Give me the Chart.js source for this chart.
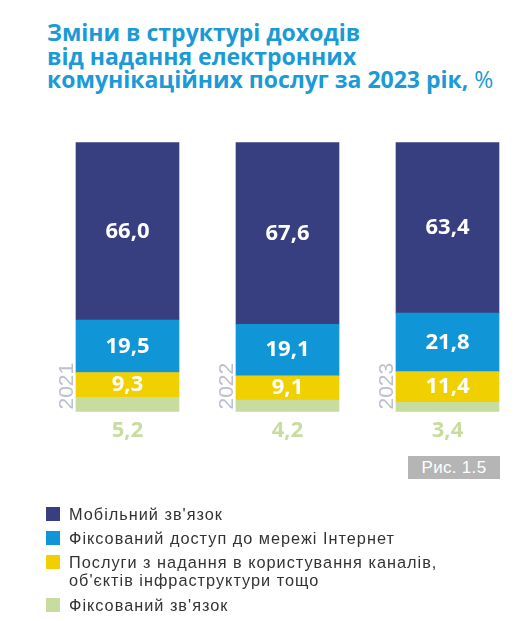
<!DOCTYPE html>
<html>
<head>
<meta charset="utf-8">
<script src="https://cdn.jsdelivr.net/npm/chart.js@4.4.1/dist/chart.umd.min.js"></script>
<style>
  html, body { margin: 0; padding: 0; background: #fff; }
  #wrap { position: relative; width: 522px; height: 621px; overflow: hidden; }
  #chart { position: absolute; left: 0; top: 0; }
  .title {
    position: absolute; left: 47px; top: 21px;
    font-family: "Open Sans", sans-serif; font-weight: 700; font-size: 23px;
    line-height: 23.5px; color: #1a9ad6; white-space: nowrap;
  }
  .title span { font-weight: 400; }
  .fig {
    position: absolute; left: 408px; top: 456px; width: 92px; height: 23px;
    background: #b5b5b5; color: #fff; font-family: "Liberation Sans", sans-serif;
    font-size: 17px; line-height: 23px; text-align: center; letter-spacing: 0.3px;
  }
  .leg { position: absolute; left: 46px; font-family: "Liberation Sans", sans-serif;
    font-size: 16.3px; line-height: 18px; color: #333; letter-spacing: 1px; }
  .leg i { position: absolute; left: 0; top: 2px; width: 14px; height: 14px; }
  .leg div { margin-left: 23px; white-space: nowrap; }
</style>
</head>
<body>
<div id="wrap">
  <div class="title">Зміни в структурі доходів<br>від надання електронних<br>комунікаційних послуг за 2023 рік, <span>%</span></div>
  <canvas id="chart" width="522" height="621"></canvas>
  <div class="fig">Рис. 1.5</div>
  <div id="legend"></div>
</div>
<script>
const years = ['2021', '2022', '2023'];
const mobile = [66.0, 67.6, 63.4];
const internet = [19.5, 19.1, 21.8];
const channels = [9.3, 9.1, 11.4];
const fixedLine = [5.2, 4.2, 3.4];

const labels = {
  mobile: 'Мобільний зв\'язок',
  internet: 'Фіксований доступ до мережі Інтернет',
  channels: 'Послуги з надання в користування каналів,\nоб\'єктів інфраструктури тощо',
  fixedLine: 'Фіксований зв\'язок'
};
const colors = {
  mobile: '#383f80',
  internet: '#1096d6',
  channels: '#f0d000',
  fixedLine: '#c8dca0'
};

const fmt = v => v.toFixed(1).replace('.', ',');

// stacked bottom first
const datasets = [
  { key: 'fixedLine', data: fixedLine },
  { key: 'channels', data: channels },
  { key: 'internet', data: internet },
  { key: 'mobile', data: mobile }
].map(d => ({
  key: d.key,
  label: labels[d.key],
  data: d.data,
  backgroundColor: colors[d.key],
  borderWidth: 0,
  barThickness: 103,
  clip: false
}));

const labelPlugin = {
  id: 'barLabels',
  afterDatasetsDraw(chart) {
    const ctx = chart.ctx;
    ctx.save();
    chart.data.datasets.forEach((ds, di) => {
      const meta = chart.getDatasetMeta(di);
      meta.data.forEach((bar, i) => {
        const v = ds.data[i];
        if (ds.key === 'fixedLine') {
          ctx.fillStyle = '#c8dca0';
          ctx.font = '700 22px "Open Sans"';
          ctx.textAlign = 'center';
          ctx.textBaseline = 'middle';
          ctx.fillText(fmt(v), bar.x, bar.base + 19);
          // year label, rotated, left of the bar
          ctx.save();
          ctx.translate(bar.x - bar.width / 2 - 3, bar.base - 2);
          ctx.rotate(-Math.PI / 2);
          ctx.fillStyle = '#bcc0ca';
          ctx.font = '300 21px "Liberation Sans"';
          ctx.textAlign = 'left';
          ctx.textBaseline = 'alphabetic';
          ctx.fillText(years[i], 0, 0);
          ctx.restore();
        } else {
          ctx.fillStyle = '#ffffff';
          ctx.font = '700 22px "Open Sans"';
          ctx.textAlign = 'center';
          ctx.textBaseline = 'middle';
          ctx.fillText(fmt(v), bar.x, (bar.y + bar.base) / 2);
        }
      });
    });
    ctx.restore();
  }
};

new Chart(document.getElementById('chart'), {
  type: 'bar',
  data: { labels: years, datasets: datasets },
  options: {
    responsive: false,
    animation: false,
    devicePixelRatio: 1,
    layout: { padding: { top: 142.5, bottom: 209.5, left: 127.5, right: 74.5 } },
    plugins: { legend: { display: false }, tooltip: { enabled: false } },
    scales: {
      x: { stacked: true, offset: false, display: false },
      y: { stacked: true, min: 0, max: 100, display: false }
    }
  },
  plugins: [labelPlugin]
});

// legend, top dataset first
const legendTops = [505, 529, 553, 596];
const legendEl = document.getElementById('legend');
datasets.slice().reverse().forEach((ds, i) => {
  const item = document.createElement('div');
  item.className = 'leg';
  item.style.top = legendTops[i] + 'px';
  const sw = document.createElement('i');
  sw.style.background = ds.backgroundColor;
  const txt = document.createElement('div');
  txt.innerHTML = ds.label.split('\n').join('<br>');
  item.appendChild(sw);
  item.appendChild(txt);
  legendEl.appendChild(item);
});
</script>
</body>
</html>
